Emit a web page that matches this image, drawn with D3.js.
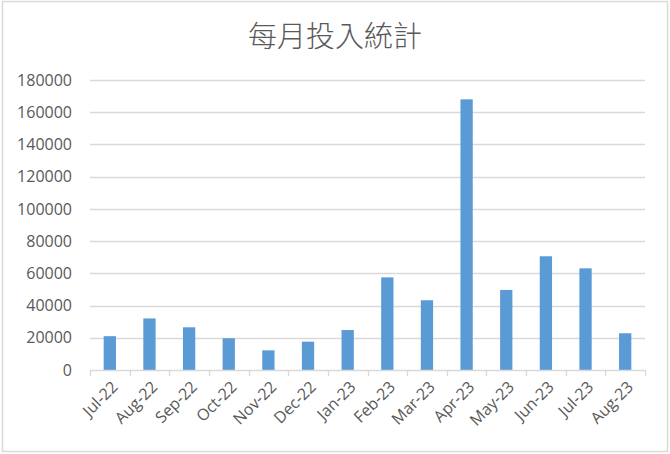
<!DOCTYPE html>
<html>
<head>
<meta charset="utf-8">
<script src="https://cdn.jsdelivr.net/npm/d3@7"></script>
<style>
  body { margin: 0; background: #fff; }
</style>
</head>
<body>
<svg id="chart"></svg>
<script>
const months = ["Jul-22", "Aug-22", "Sep-22", "Oct-22", "Nov-22", "Dec-22", "Jan-23",
    "Feb-23", "Mar-23", "Apr-23", "May-23", "Jun-23", "Jul-23", "Aug-23"];
const amounts = [21000, 32000, 26500, 19700, 12200, 17600, 24800,
    57500, 43300, 168000, 49700, 70600, 63100, 22800];
const yTicks = [0, 20000, 40000, 60000, 80000, 100000, 120000, 140000, 160000, 180000];
const title = "每月投入統計";

const W = 670, H = 454;
const margin = { top: 80, right: 25, bottom: 84, left: 90 };
const width = W - margin.left - margin.right;
const height = H - margin.top - margin.bottom;
const textColor = "#595959";
const lineColor = "#d9d9d9";

const svg = d3.select("#chart")
    .attr("width", W)
    .attr("height", H);

// chart area border
svg.append("rect")
    .attr("x", 2.5).attr("y", 1.5)
    .attr("width", W - 5).attr("height", H - 4)
    .attr("fill", "#fff")
    .attr("stroke", lineColor)
    .attr("stroke-width", 1.5);

svg.append("text")
    .attr("x", W / 2)
    .attr("y", 47)
    .attr("text-anchor", "middle")
    .style("font-family", "'Noto Sans CJK TC', 'Noto Sans CJK SC', sans-serif")
    .style("font-weight", 300)
    .style("font-size", "29px")
    .style("fill", textColor)
    .text(title);

const g = svg.append("g")
    .attr("transform", `translate(${margin.left},${margin.top})`);

const x = d3.scaleBand().domain(months).range([0, width]).paddingInner(0.69).paddingOuter(0.345);
const band = d3.scaleBand().domain(months).range([0, width]);
const y = d3.scaleLinear().domain([0, 180000]).range([height, 0]);

// gridlines
g.append("g")
    .selectAll("line")
    .data(yTicks.slice(1))
    .enter()
    .append("line")
    .attr("x1", 0).attr("x2", width)
    .attr("y1", d => Math.round(y(d)) + 0.5)
    .attr("y2", d => Math.round(y(d)) + 0.5)
    .attr("stroke", lineColor)
    .attr("stroke-width", 1.3);

// y axis labels
const yAxis = d3.axisLeft(y).tickValues(yTicks).tickSize(0).tickPadding(18).tickFormat(d3.format("d"));
g.append("g")
    .call(yAxis)
    .call(s => s.select(".domain").remove())
    .selectAll("text")
    .style("font-family", "'Open Sans', sans-serif")
    .style("font-size", "16px")
    .style("fill", textColor);

// bars
g.selectAll(".bar")
    .data(months)
    .enter()
    .append("rect")
    .attr("class", "bar")
    .attr("x", d => x(d))
    .attr("y", (d, i) => y(amounts[i]))
    .attr("width", x.bandwidth())
    .attr("height", (d, i) => height - y(amounts[i]))
    .attr("fill", "#5b9bd5");

// x axis line with ticks between categories
const xAxisG = g.append("g").attr("transform", `translate(0,${height})`);
xAxisG.append("line")
    .attr("x1", 0).attr("x2", width)
    .attr("y1", 0.5).attr("y2", 0.5)
    .attr("stroke", lineColor)
    .attr("stroke-width", 1.3);
xAxisG.selectAll(".tick-mark")
    .data(months.concat([null]))
    .enter()
    .append("line")
    .attr("x1", (d, i) => Math.round(i * band.step()) + 0.5)
    .attr("x2", (d, i) => Math.round(i * band.step()) + 0.5)
    .attr("y1", 0).attr("y2", 6)
    .attr("stroke", lineColor)
    .attr("stroke-width", 1.3);

xAxisG.selectAll(".xlabel")
    .data(months)
    .enter()
    .append("text")
    .attr("class", "xlabel")
    .attr("text-anchor", "end")
    .attr("transform", d => `translate(${band(d) + band.bandwidth() / 2 + 5},${14}) rotate(-45)`)
    .attr("dy", "0.35em")
    .style("font-family", "'Open Sans', sans-serif")
    .style("font-size", "16px")
    .style("fill", textColor)
    .text(d => d);
</script>
</body>
</html>
